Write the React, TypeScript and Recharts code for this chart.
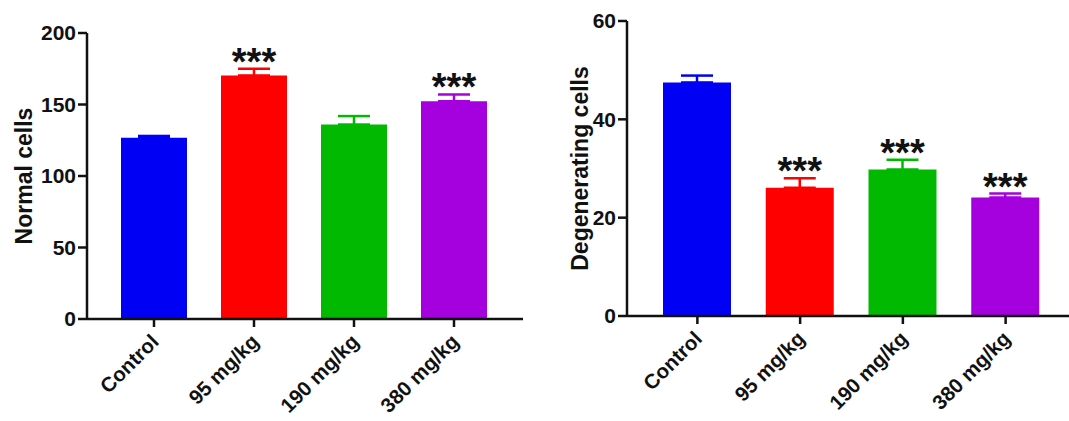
import { BarChart, Bar, Cell, XAxis, YAxis, ErrorBar, LabelList } from 'recharts';

const categories = ['Control', '95 mg/kg', '190 mg/kg', '380 mg/kg'];

const normalMeans = [126.7, 170.3, 136, 152.3];
const normalErrors = [1.3, 4.7, 5.9, 4.7];
const normalStars = ['', '***', '', '***'];

const degenMeans = [47.5, 26.1, 29.8, 24.1];
const degenErrors = [1.4, 1.9, 2.0, 0.8];
const degenStars = ['', '***', '***', '***'];

const normalTicks = [0, 50, 100, 150, 200];
const degenTicks = [0, 20, 40, 60];

const COLORS = ['#0000f5', '#ff0000', '#00b900', '#a500de'];
const FONT = '"Liberation Sans", Arial, Helvetica, sans-serif';

// one error key per bar so each cap can take its bar's colour
const buildRows = (means: number[], errors: number[], stars: string[]) =>
  categories.map((name, i) => {
    const row: Record<string, unknown> = { name, value: means[i], stars: stars[i] };
    categories.forEach((_, j) => {
      row[`err${j}`] = i === j ? [0, errors[i]] : null;
    });
    return row;
  });

const normalData = buildRows(normalMeans, normalErrors, normalStars);
const degenData = buildRows(degenMeans, degenErrors, degenStars);

const XTick = (props: any) => {
  const { x, y, payload } = props;
  return (
    <g transform={`translate(${x + 6},${y + 16})`}>
      <text
        x={0}
        y={0}
        textAnchor="end"
        transform="rotate(-45)"
        fontFamily={FONT}
        fontWeight="bold"
        fontSize={20.5}
        fill="#111"
      >
        {payload.value}
      </text>
    </g>
  );
};

const YTitle = (props: any) => {
  const { viewBox, text, bx } = props;
  const cx = (viewBox?.x ?? 0) + bx;
  const cy = (viewBox?.y ?? 0) + (viewBox?.height ?? 0) / 2;
  return (
    <text
      x={cx}
      y={cy}
      textAnchor="middle"
      transform={`rotate(-90, ${cx}, ${cy})`}
      fontFamily={FONT}
      fontWeight="bold"
      fontSize={23}
      fill="#111"
    >
      {text}
    </text>
  );
};

// stars sit just above the error cap
const makeStars = (means: number[], errors: number[]) => (props: any) => {
  const vb = props.viewBox ?? {};
  const x = props.x ?? vb.x;
  const y = props.y ?? vb.y;
  const width = props.width ?? vb.width;
  const height = Math.abs(props.height ?? vb.height);
  const i = props.index;
  if (!props.value || i == null) return null;
  const capY = y - (height * errors[i]) / means[i];
  return (
    <text
      x={x + width / 2}
      y={capY + 6}
      textAnchor="middle"
      fontFamily={FONT}
      fontWeight="bold"
      fontSize={38}
      fill="#111"
    >
      {props.value}
    </text>
  );
};

interface PanelProps {
  data: Record<string, unknown>[];
  means: number[];
  errors: number[];
  ticks: number[];
  title: string;
  titleX: number;
  width: number;
  top: number;
  bottom: number;
  right: number;
  pad: { left: number; right: number };
  barSize: number;
}

const Panel = ({ data, means, errors, ticks, title, titleX, width, top, bottom, right, pad, barSize }: PanelProps) => (
  <BarChart width={width} height={421} data={data} margin={{ top, right, bottom, left: 0 }}>
    <XAxis
      dataKey="name"
      interval={0}
      padding={pad}
      height={80}
      tickSize={8}
      tickMargin={0}
      tick={<XTick />}
      axisLine={{ stroke: '#111', strokeWidth: 2.5 }}
      tickLine={{ stroke: '#111', strokeWidth: 2.5 }}
    />
    <YAxis
      width={87}
      domain={[ticks[0], ticks[ticks.length - 1]]}
      ticks={ticks}
      interval={0}
      tickSize={9}
      tickMargin={2}
      tick={{ fontFamily: FONT, fontWeight: 'bold', fontSize: 21, fill: '#111' }}
      axisLine={{ stroke: '#111', strokeWidth: 2.5 }}
      tickLine={{ stroke: '#111', strokeWidth: 2.5 }}
      label={<YTitle text={title} bx={titleX} />}
    />
    <Bar dataKey="value" barSize={barSize} isAnimationActive={false}>
      {data.map((row, i) => (
        <Cell key={`cell-${row.name}`} fill={COLORS[i % COLORS.length]} />
      ))}
      {categories.map((c, j) => (
        <ErrorBar
          key={`err-${c}`}
          dataKey={`err${j}`}
          width={16}
          strokeWidth={2.5}
          stroke={COLORS[j]}
          direction="y"
          isAnimationActive={false}
        />
      ))}
      <LabelList dataKey="stars" content={makeStars(means, errors)} />
    </Bar>
  </BarChart>
);

export default function App() {
  return (
    <div style={{ position: 'absolute', left: 0, top: 0, width: 1069, height: 421, background: '#fff' }}>
      <div style={{ position: 'absolute', left: 0, top: 0 }}>
        <Panel
          data={normalData}
          means={normalMeans}
          errors={normalErrors}
          ticks={normalTicks}
          title="Normal cells"
          titleX={32}
          width={540}
          top={33}
          bottom={22}
          right={17}
          pad={{ left: 17, right: 19 }}
          barSize={66}
        />
      </div>
      <div style={{ position: 'absolute', left: 540, top: 0 }}>
        <Panel
          data={degenData}
          means={degenMeans}
          errors={degenErrors}
          ticks={degenTicks}
          title="Degenerating cells"
          titleX={48}
          width={529}
          top={21}
          bottom={25}
          right={0}
          pad={{ left: 19, right: 12 }}
          barSize={68}
        />
      </div>
    </div>
  );
}
